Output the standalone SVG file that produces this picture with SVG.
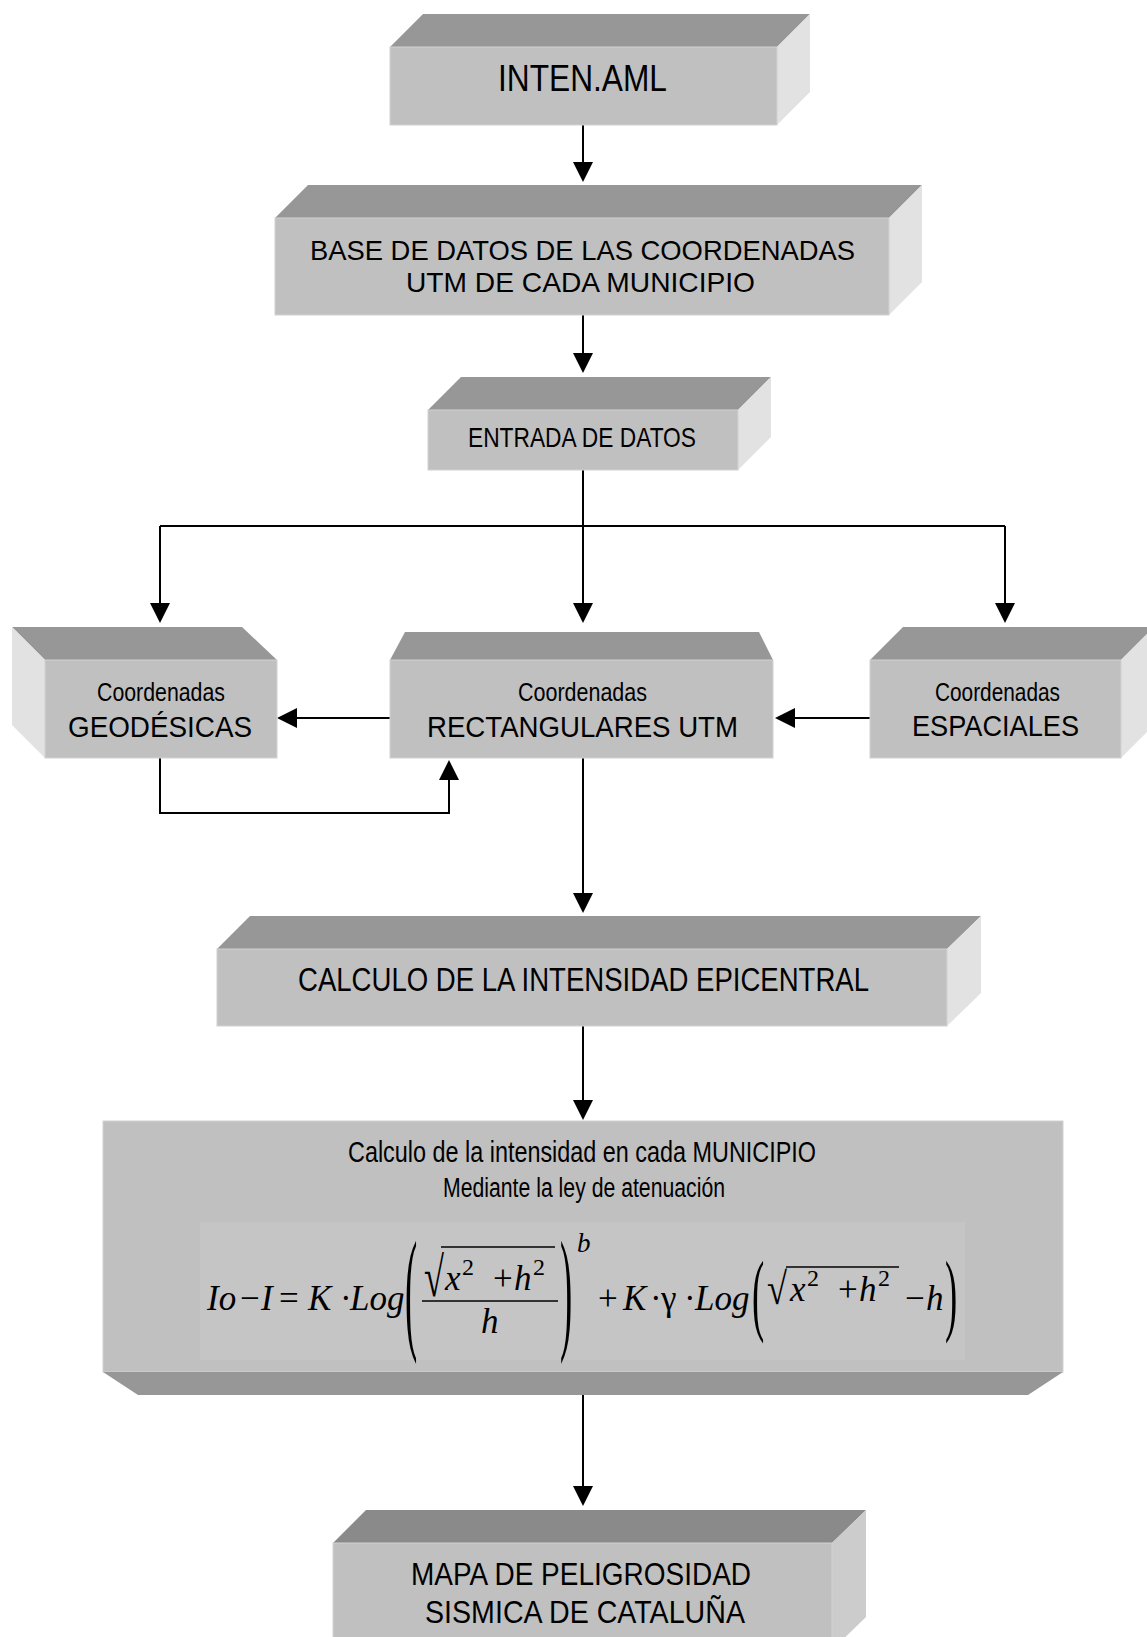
<svg xmlns="http://www.w3.org/2000/svg" width="1147" height="1637" viewBox="0 0 1147 1637">
<style>
.top{fill:#979797}
.front{fill:#c0c0c0;stroke:#d2d2d2;stroke-width:1}
.side{fill:#e2e2e2}
.topd{fill:#8a8a8a}
.sided{fill:#cccccc}
.t{font-family:"Liberation Sans",Arial,sans-serif;fill:#000}
.conn{fill:none;stroke:#000;stroke-width:2}
.ah{fill:#000}
.m{font-family:"Liberation Serif","Times New Roman",serif;font-size:35px;font-style:italic;fill:#000}
.u{font-style:normal}
.fl{stroke:#000;stroke-width:1.5}
</style>
<rect width="1147" height="1637" fill="#fff"/>

<g id="connectors">
  <line class="conn" x1="583" y1="125" x2="583" y2="165"/>
  <polygon class="ah" points="573,162 593,162 583,182"/>
  <line class="conn" x1="583" y1="315" x2="583" y2="356"/>
  <polygon class="ah" points="573,353 593,353 583,373"/>
  <path class="conn" d="M583,470 V526 M160,526 H1005 M160,526 V606 M583,526 V606 M1005,526 V606"/>
  <polygon class="ah" points="150,603 170,603 160,623"/>
  <polygon class="ah" points="573,603 593,603 583,623"/>
  <polygon class="ah" points="995,603 1015,603 1005,623"/>
  <line class="conn" x1="390" y1="718" x2="294" y2="718"/>
  <polygon class="ah" points="297,708 297,728 277,718"/>
  <line class="conn" x1="870" y1="718" x2="792" y2="718"/>
  <polygon class="ah" points="795,708 795,728 775,718"/>
  <path class="conn" d="M160,758 V813 H449 V777"/>
  <polygon class="ah" points="439,780 459,780 449,760"/>
  <line class="conn" x1="583" y1="758" x2="583" y2="896"/>
  <polygon class="ah" points="573,893 593,893 583,913"/>
  <line class="conn" x1="583" y1="1026" x2="583" y2="1103"/>
  <polygon class="ah" points="573,1100 593,1100 583,1120"/>
  <line class="conn" x1="583" y1="1388" x2="583" y2="1489"/>
  <polygon class="ah" points="573,1486 593,1486 583,1506"/>
</g>

<g id="inten">
  <polygon class="top" points="390,47 777,47 810,14 423,14"/>
  <polygon class="side" points="777,47 810,14 810,92 777,125"/>
  <rect class="front" x="390" y="47" width="387" height="78"/>
  <text class="t" x="498" y="91" font-size="36" textLength="169" lengthAdjust="spacingAndGlyphs">INTEN.AML</text>
</g>

<g id="base">
  <polygon class="top" points="275,218 889,218 922,185 308,185"/>
  <polygon class="side" points="889,218 922,185 922,282 889,315"/>
  <rect class="front" x="275" y="218" width="614" height="97"/>
  <text class="t" x="310" y="260" font-size="28" textLength="545" lengthAdjust="spacingAndGlyphs">BASE DE DATOS DE LAS COORDENADAS</text>
  <text class="t" x="406" y="292" font-size="28" textLength="349" lengthAdjust="spacingAndGlyphs">UTM DE CADA MUNICIPIO</text>
</g>

<g id="entrada">
  <polygon class="top" points="428,410 738,410 771,377 461,377"/>
  <polygon class="side" points="738,410 771,377 771,437 738,470"/>
  <rect class="front" x="428" y="410" width="310" height="60"/>
  <text class="t" x="468" y="447" font-size="28" textLength="228" lengthAdjust="spacingAndGlyphs">ENTRADA DE DATOS</text>
</g>

<g id="geodesicas">
  <polygon class="top" points="12,627 242,627 277,660 45,660"/>
  <polygon class="side" points="12,627 45,660 45,758 12,725"/>
  <rect class="front" x="45" y="660" width="232" height="98"/>
  <text class="t" x="97" y="701" font-size="25" textLength="128" lengthAdjust="spacingAndGlyphs">Coordenadas</text>
  <text class="t" x="68" y="737" font-size="30" textLength="184" lengthAdjust="spacingAndGlyphs">GEODÉSICAS</text>
</g>

<g id="rectangulares">
  <polygon class="top" points="390,660 773,660 759,632 405,632"/>
  <rect class="front" x="390" y="660" width="383" height="98"/>
  <text class="t" x="518" y="701" font-size="25" textLength="129" lengthAdjust="spacingAndGlyphs">Coordenadas</text>
  <text class="t" x="427" y="737" font-size="30" textLength="311" lengthAdjust="spacingAndGlyphs">RECTANGULARES UTM</text>
</g>

<g id="espaciales">
  <polygon class="top" points="870,660 1121,660 1154,627 903,627"/>
  <polygon class="side" points="1121,660 1154,627 1154,725 1121,758"/>
  <rect class="front" x="870" y="660" width="251" height="98"/>
  <text class="t" x="935" y="701" font-size="25" textLength="125" lengthAdjust="spacingAndGlyphs">Coordenadas</text>
  <text class="t" x="912" y="736" font-size="30" textLength="167" lengthAdjust="spacingAndGlyphs">ESPACIALES</text>
</g>

<g id="calculo-epicentral">
  <polygon class="top" points="217,949 947,949 981,916 250,916"/>
  <polygon class="side" points="947,949 981,916 981,993 947,1026"/>
  <rect class="front" x="217" y="949" width="730" height="77"/>
  <text class="t" x="298" y="991" font-size="33" textLength="571" lengthAdjust="spacingAndGlyphs">CALCULO DE LA INTENSIDAD EPICENTRAL</text>
</g>

<g id="calculo-municipio">
  <rect class="front" x="103" y="1121" width="960" height="251"/>
  <polygon class="top" points="103,1372 1063,1372 1028,1395 138,1395"/>
  <text class="t" x="348" y="1162" font-size="29" textLength="468" lengthAdjust="spacingAndGlyphs">Calculo de la intensidad en cada MUNICIPIO</text>
  <text class="t" x="443" y="1197" font-size="27" textLength="282" lengthAdjust="spacingAndGlyphs">Mediante la ley de atenuación</text>
  <rect x="200" y="1222" width="765" height="138" fill="#c5c5c5"/>
  <g id="formula" class="m">
    <text x="207" y="1310">Io</text>
    <text class="u" x="240" y="1310">−</text>
    <text x="261" y="1310">I</text>
    <text class="u" x="279" y="1310">=</text>
    <text x="308" y="1310">K</text>
    <text class="u" x="340" y="1310">·</text>
    <text x="350" y="1310">Log</text>
    <text class="u" transform="translate(405,1335) scale(1.05,3.9)">(</text>
    <text class="u" transform="translate(424,1296) scale(0.65,1)" font-size="56">√</text>
    <line class="fl" x1="441" y1="1247" x2="555" y2="1247"/>
    <text x="445" y="1290">x</text>
    <text class="u" x="462" y="1275" font-size="24">2</text>
    <text class="u" x="493" y="1290">+</text>
    <text x="514" y="1290">h</text>
    <text class="u" x="533" y="1275" font-size="24">2</text>
    <line class="fl" x1="422" y1="1301" x2="558" y2="1301"/>
    <text x="481" y="1333">h</text>
    <text class="u" transform="translate(560,1335) scale(1.05,3.9)">)</text>
    <text x="577" y="1252" font-size="27">b</text>
    <text class="u" x="598" y="1310">+</text>
    <text x="623" y="1310">K</text>
    <text class="u" x="650" y="1310">·</text>
    <text class="u" x="661" y="1310">γ</text>
    <text class="u" x="684" y="1310">·</text>
    <text x="695" y="1310">Log</text>
    <text class="u" transform="translate(752,1324) scale(1.05,2.57)">(</text>
    <text class="u" transform="translate(767,1304) scale(0.65,0.8)" font-size="56">√</text>
    <line class="fl" x1="786" y1="1267" x2="899" y2="1267"/>
    <text x="790" y="1301">x</text>
    <text class="u" x="807" y="1286" font-size="24">2</text>
    <text class="u" x="838" y="1301">+</text>
    <text x="859" y="1301">h</text>
    <text class="u" x="878" y="1286" font-size="24">2</text>
    <text class="u" x="905" y="1310">−</text>
    <text x="926" y="1310">h</text>
    <text class="u" transform="translate(945,1324) scale(1.05,2.57)">)</text>
  </g>
</g>

<g id="mapa">
  <polygon class="topd" points="333,1543 832,1543 866,1510 366,1510"/>
  <polygon class="sided" points="832,1543 866,1510 866,1617 832,1650"/>
  <rect class="front" x="333" y="1543" width="499" height="107"/>
  <text class="t" x="411" y="1585" font-size="32" textLength="340" lengthAdjust="spacingAndGlyphs">MAPA DE PELIGROSIDAD</text>
  <text class="t" x="425" y="1623" font-size="32" textLength="320" lengthAdjust="spacingAndGlyphs">SISMICA DE CATALUÑA</text>
</g>
</svg>
